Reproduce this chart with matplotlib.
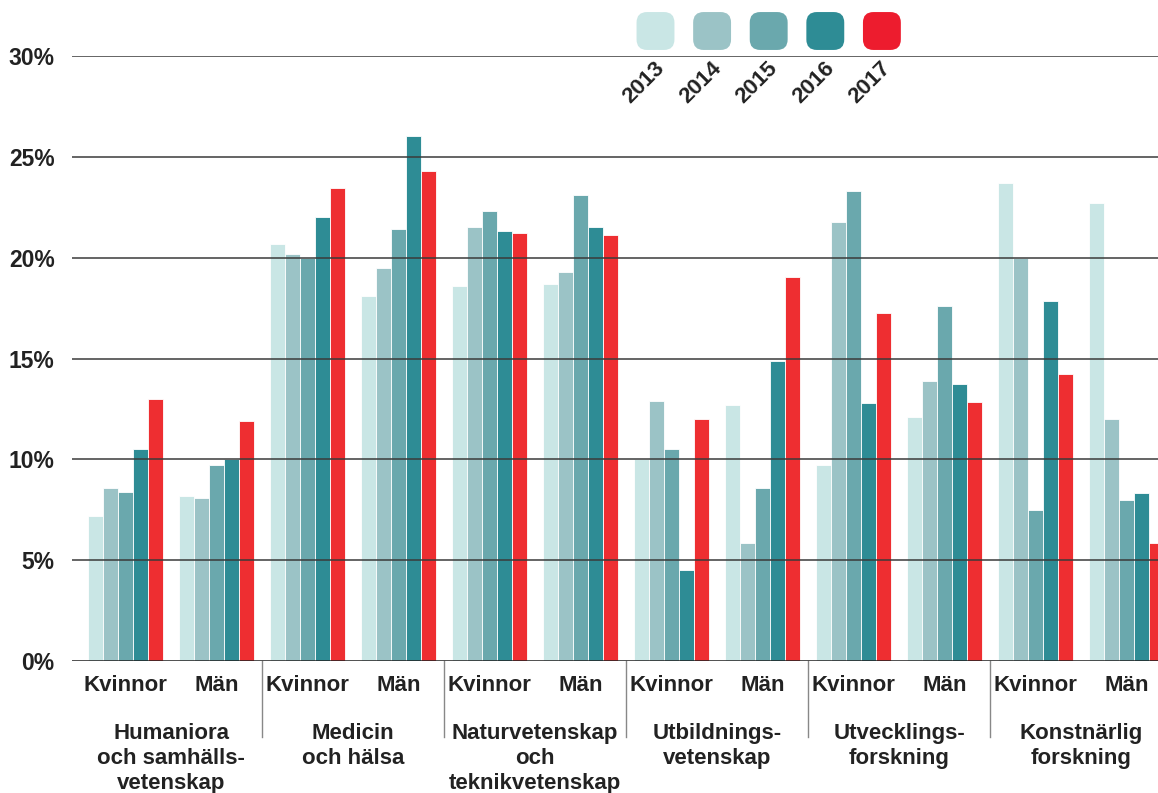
import numpy as np
import matplotlib
matplotlib.use('Agg')
import matplotlib.pyplot as plt
from matplotlib.patches import FancyBboxPatch

plt.rcParams['font.family'] = ['Liberation Sans', 'DejaVu Sans']

# data
anni = ['2013', '2014', '2015', '2016', '2017']
generi = ['Kvinnor', 'Män']
campi = ['Humaniora\noch samhälls-\nvetenskap', 'Medicin\noch hälsa',
         'Naturvetenskap\noch\nteknikvetenskap', 'Utbildnings-\nvetenskap',
         'Utvecklings-\nforskning', 'Konstnärlig\nforskning']
val_2013 = [7.2, 8.2, 20.7, 18.1, 18.6, 18.7, 10.0, 12.7, 9.7, 12.1, 23.7, 22.7]
val_2014 = [8.6, 8.1, 20.2, 19.5, 21.5, 19.3, 12.9, 5.85, 21.75, 13.9, 20.0, 12.0]
val_2015 = [8.4, 9.7, 20.0, 21.4, 22.3, 23.1, 10.5, 8.6, 23.3, 17.6, 7.5, 8.0]
val_2016 = [10.5, 10.0, 22.0, 26.05, 21.3, 21.5, 4.5, 14.9, 12.8, 13.75, 17.85, 8.35]
val_2017 = [13.0, 11.9, 23.45, 24.3, 21.2, 21.1, 12.0, 19.05, 17.25, 12.85, 14.25, 5.85]
valori = [val_2013, val_2014, val_2015, val_2016, val_2017]

colori = ['#c9e6e5', '#9bc3c6', '#6aa8ad', '#2e8c95', '#ee2e31']
colori_legenda = ['#c9e6e5', '#9bc3c6', '#6aa8ad', '#2e8c95', '#ed1c2e']

W, H = 1158, 793
fs = 16
fig = plt.figure(figsize=(W / 100, H / 100), dpi=100)
ax = fig.add_axes([72 / W, (H - 661) / H, (W - 72) / W, (661 - 56) / H])

x = np.arange(len(val_2013))
larg = 0.165
for i, anno in enumerate(anni):
    ax.bar(x + (i - 2) * larg, valori[i], width=larg, color=colori[i],
           edgecolor='white', linewidth=0.6, zorder=2)

# gridlines on top of the bars
for y in range(0, 31, 5):
    ax.axhline(y, color='#3a3a3a' if y else '#222222', lw=1.1, zorder=3)

ax.set_xlim(-0.588, 11.346)
ax.set_ylim(0, 30)
for s in ax.spines.values():
    s.set_visible(False)
ax.set_xticks([])
ax.set_yticks(range(0, 31, 5))
ax.set_yticklabels([f'{v}%' for v in range(0, 31, 5)], fontsize=fs + 0.5,
                   fontweight='bold', color='#222222')
ax.tick_params(axis='y', length=0, pad=12.5)

# labels under the bars
trans = ax.get_xaxis_transform()
for k in range(len(x)):
    ax.text(x[k], -0.04, generi[k % 2], transform=trans, ha='center', va='center',
            fontsize=fs, fontweight='bold', color='#222222')
for j, campo in enumerate(campi):
    ax.text(2 * j + 0.5, -0.103, campo, transform=trans, ha='center', va='top',
            fontsize=fs, fontweight='bold', color='#222222', linespacing=1.24)
    if j > 0:
        ax.plot([2 * j - 0.5, 2 * j - 0.5], [0, -0.125], transform=trans,
                color='#888888', lw=1, clip_on=False)

# legend
for i, anno in enumerate(anni):
    cx = 655.5 + 56.6 * i
    box = FancyBboxPatch(((cx - 12) / W, (H - 43) / H), 24 / W, 24 / H,
                         boxstyle='round,pad=0.006,rounding_size=0.009',
                         transform=fig.transFigure, facecolor=colori_legenda[i],
                         edgecolor='none', mutation_aspect=W / H)
    fig.patches.append(box)
    fig.text((cx - 11.5) / W, (H - 83) / H, anno, rotation=45, ha='center',
             va='center', fontsize=fs, fontweight='bold', color='#222222')

fig.savefig('out.png', dpi=100)
